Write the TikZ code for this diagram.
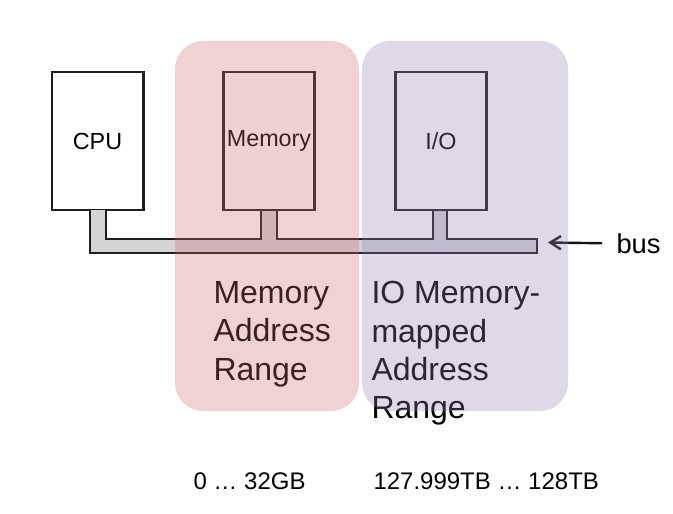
\documentclass[tikz,border=0pt]{standalone}
\usepackage{fontspec}
\setmainfont{Liberation Sans}
\usetikzlibrary{arrows.meta}
\tikzset{every picture/.style={line width=0.75pt}}
\tikzset{
  unitbox/.style={draw={rgb, 255:red, 30; green, 30; blue, 30 }, line width=2, fill=white, minimum width=68.5pt, minimum height=103.5pt, inner sep=0pt, font=\fontsize{17.5}{21}\selectfont},
  busline/.style={draw={rgb, 255:red, 30; green, 30; blue, 30 }, line width=2, fill={rgb, 255:red, 210; green, 212; blue, 214 }},
  busarrow/.style={-{Straight Barb[length=8pt,width=10pt]}, line width=1.8, color={rgb, 255:red, 20; green, 20; blue, 20 }},
  memrange/.style={fill={rgb, 255:red, 205; green, 105; blue, 110 }, fill opacity=0.3, rounded corners=21pt},
  iorange/.style={fill={rgb, 255:red, 145; green, 125; blue, 178 }, fill opacity=0.3, rounded corners=21pt},
  rangetxt/.style={anchor=north west, inner sep=0pt, align=left, font=\fontsize{24}{28.7}\selectfont},
  sizetxt/.style={anchor=base west, inner sep=0pt, font=\fontsize{18}{21}\selectfont},
}

\begin{document}
\begin{tikzpicture}[x=0.75pt,y=0.75pt,yscale=-1,xscale=1]
\path[use as bounding box] (0,0) rectangle (673,513);

%Shape: Rectangle [id:cpu] 
\node[unitbox] (cpu) at (97.5,141) {CPU};
%Shape: Rectangle [id:mem] 
\node[unitbox] (mem) at (269,141) {Memory};
%Shape: Rectangle [id:io] 
\node[unitbox] (io) at (441,141) {I/O};

%Shape: Polygon [id:bus] 
\draw[busline] (90,210) -- (90,253) -- (537,253) -- (537,239) -- (447,239) -- (447,210) -- (433,210) -- (433,239) -- (277,239) -- (277,210) -- (261,210) -- (261,239) -- (106,239) -- (106,210) ;

% Text Node
\node[anchor=base west, inner sep=0pt, font=\fontsize{20.5}{24}\selectfont] (buslbl) at (616,253) {bus};
\coordinate (busend) at (548,242.5);
%Straight Lines [id:busarrow] 
\draw[busarrow] ([xshift=-10.5pt]buslbl.west) -- (busend) ;

% Text Node
\node[rangetxt] (memlbl) at (213,281) {Memory\\Address\\Range};
% Text Node
\node[rangetxt] (iolbl) at (371,281) {IO Memory-\\mapped\\Address\\Range};

%Shape: Rounded Rect [id:memrange] 
\path[memrange] (175,41) rectangle (359,411) ;
%Shape: Rounded Rect [id:iorange] 
\path[iorange] (362,41) rectangle (568,411) ;

% Text Node
\node[sizetxt] (memsize) at (193,489) {0 … 32GB};
% Text Node
\node[sizetxt] (iosize) at (373,489) {127.999TB … 128TB};

\end{tikzpicture}
\end{document}
